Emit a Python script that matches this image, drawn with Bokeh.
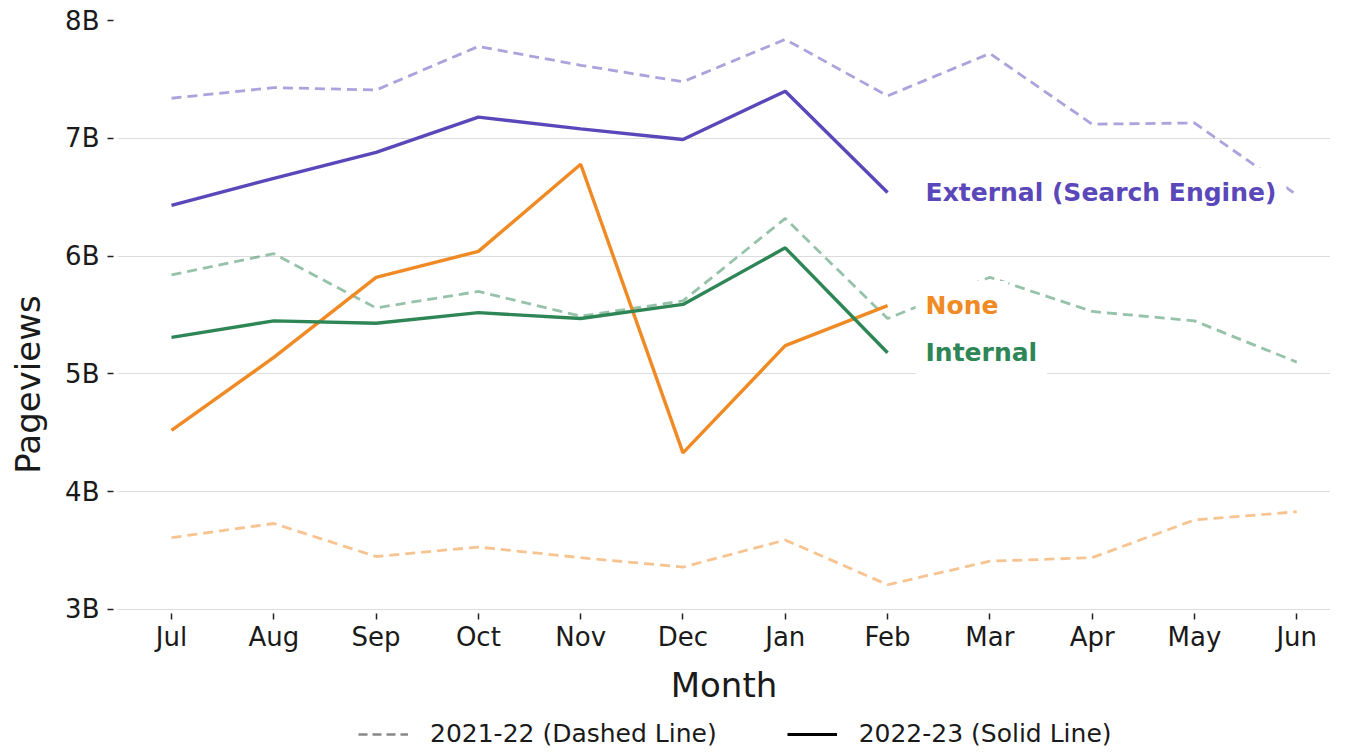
from bokeh.plotting import figure
from bokeh.models import Range1d, FixedTicker, Label, Legend, LegendItem
from bokeh.embed import file_html
from bokeh.resources import INLINE

# ---- data (values in billions of pageviews) ----
months = ["Jul", "Aug", "Sep", "Oct", "Nov", "Dec", "Jan", "Feb", "Mar", "Apr", "May", "Jun"]
external_2122 = [7.34, 7.43, 7.41, 7.78, 7.62, 7.48, 7.84, 7.36, 7.72, 7.12, 7.13, 6.52]
external_2223 = [6.43, 6.66, 6.88, 7.18, 7.08, 6.99, 7.40, 6.54]
internal_2122 = [5.84, 6.02, 5.56, 5.70, 5.49, 5.62, 6.32, 5.47, 5.82, 5.53, 5.45, 5.10]
internal_2223 = [5.31, 5.45, 5.43, 5.52, 5.47, 5.59, 6.07, 5.18]
none_2122 = [3.61, 3.73, 3.45, 3.53, 3.44, 3.36, 3.59, 3.21, 3.41, 3.44, 3.76, 3.83]
none_2223 = [4.52, 5.14, 5.82, 6.04, 6.78, 4.33, 5.24, 5.58]
y_ticks = [3, 4, 5, 6, 7, 8]
y_tick_labels = ["3B", "4B", "5B", "6B", "7B", "8B"]
series_names = ["External (Search Engine)", "None", "Internal"]
legend_labels = ["2021-22 (Dashed Line)", "2022-23 (Solid Line)"]

PURPLE = "#5a47b9"
ORANGE = "#ef8a24"
GREEN = "#2e8656"
FONT = "DejaVu Sans"

# the frame reaches below the 3B line so that the x axis (fixed at 3B) and the legend sit inside it
p = figure(frame_width=1213, frame_height=728, output_backend="svg", toolbar_location=None,
           x_range=Range1d(-0.528, 11.33), y_range=Range1d(1.82, 8),
           min_border_left=117, min_border_right=0, min_border_top=20, min_border_bottom=0)
p.outline_line_color = None
p.background_fill_color = "white"
p.border_fill_color = "white"

xs = list(range(len(months)))

def draw(vals, color, dashed):
    x = xs[:len(vals)]
    if dashed:
        return p.line(x, vals, line_color=color, line_alpha=0.5, line_width=2.8, line_dash="10 6")
    return p.line(x, vals, line_color=color, line_width=3.4)

draw(external_2122, PURPLE, True)
draw(internal_2122, GREEN, True)
draw(none_2122, ORANGE, True)
draw(external_2223, PURPLE, False)
draw(none_2223, ORANGE, False)
draw(internal_2223, GREEN, False)

# grid
p.xgrid.grid_line_color = None
p.ygrid.grid_line_color = "#dcdcdc"
p.ygrid.grid_line_width = 1

# axes
p.xaxis.ticker = FixedTicker(ticks=xs)
p.xaxis.major_label_overrides = {i: m for i, m in zip(xs, months)}
p.xaxis.fixed_location = y_ticks[0]
p.yaxis.ticker = FixedTicker(ticks=y_ticks)
p.yaxis.major_label_overrides = {t: l for t, l in zip(y_ticks, y_tick_labels)}
p.yaxis.bounds = (y_ticks[0], y_ticks[-1])
for ax in (p.xaxis[0], p.yaxis[0]):
    ax.axis_line_color = None
    ax.minor_tick_line_color = None
    ax.major_tick_line_color = "#222222"
    ax.major_tick_line_width = 1.5
    ax.major_label_text_font = FONT
    ax.major_label_text_font_size = "26px"
    ax.major_label_text_color = "#1a1a1a"
    ax.axis_label_text_font = FONT
    ax.axis_label_text_font_style = "normal"
    ax.axis_label_text_color = "#1a1a1a"
p.xaxis.major_tick_in = -4
p.xaxis.major_tick_out = 10
p.xaxis.major_label_standoff = 3
p.xaxis.axis_label = "Month"
p.xaxis.axis_label_text_font_size = "34px"
p.xaxis.axis_label_standoff = 9
p.yaxis.major_tick_in = -4
p.yaxis.major_tick_out = 10
p.yaxis.major_label_standoff = 8
p.yaxis.axis_label = "Pageviews"
p.yaxis.axis_label_text_font_size = "34px"
p.yaxis.axis_label_standoff = 14

# direct labels
for name, vals, color in zip(series_names, [external_2223, none_2223, internal_2223], [PURPLE, ORANGE, GREEN]):
    p.add_layout(Label(x=len(vals) - 1, y=vals[-1], x_offset=28, text=name,
                       text_font=FONT, text_font_size="25px", text_font_style="bold",
                       text_color=color, text_baseline="middle", text_align="left",
                       background_fill_color="white", padding=10))

# legend (key glyphs only; NaN so nothing is drawn in the plot)
nan = float("nan")
r_dash = p.line([0], [nan], line_color="#888888", line_width=2.6, line_dash="9 5")
r_solid = p.line([0], [nan], line_color="#000000", line_width=3)
legend = Legend(items=[LegendItem(label=legend_labels[0], renderers=[r_dash]),
                       LegendItem(label=legend_labels[1], renderers=[r_solid])],
                orientation="horizontal", location=(241, 0),
                border_line_color=None, background_fill_alpha=0,
                label_text_font=FONT, label_text_font_size="25px", label_text_color="#1a1a1a",
                label_height=26, glyph_height=26,
                glyph_width=50, label_standoff=22, spacing=70, padding=0, margin=0)
p.add_layout(legend, "center")

open("out.html", "w").write(file_html(p, INLINE))
